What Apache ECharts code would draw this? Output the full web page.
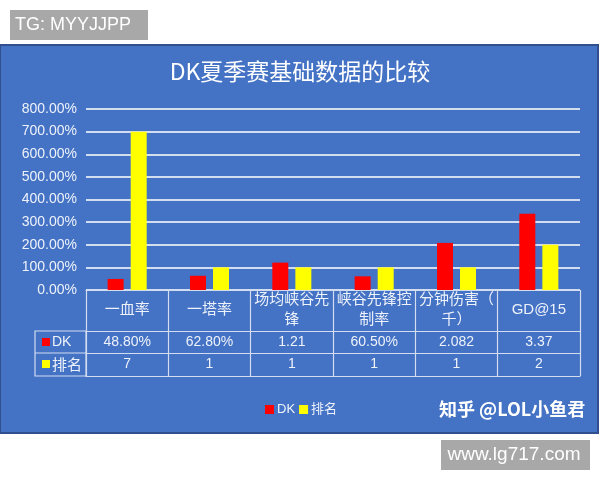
<!DOCTYPE html>
<html>
<head>
<meta charset="utf-8">
<script src="https://cdn.jsdelivr.net/npm/echarts@6/dist/echarts.min.js"></script>
<style>
html,body{margin:0;padding:0;background:#fff;}
#c{width:600px;height:480px;}
</style>
</head>
<body>
<div id="c"></div>
<script>
// ---- data ----
const categories = ['一血率', '一塔率', '场均峡谷先锋', '峡谷先锋控制率', '分钟伤害（千）', 'GD@15'];
const dkValues = [0.488, 0.628, 1.21, 0.605, 2.082, 3.37];
const dkLabels = ['48.80%', '62.80%', '1.21', '60.50%', '2.082', '3.37'];
const rankValues = [7, 1, 1, 1, 1, 2];
const seriesNames = ['DK', '排名'];
const yMin = 0, yMax = 8, yStep = 1;

const BLUE = '#4472C4';
const LINE = '#D3DDF0';
const TXT = '#EEF2FA';
const CJK = '"Noto Sans CJK SC","Noto Sans",sans-serif';
const LAT = '"Liberation Sans","Noto Sans CJK SC",sans-serif';

function wrap5(s) {
  if (s.length <= 5) return s;
  return s.slice(0, 5) + '\n' + s.slice(5);
}

const chart = echarts.init(document.getElementById('c'), null, {renderer: 'canvas'});
const tableLine = {show: true, lineStyle: {color: LINE, width: 1.2}};

chart.setOption({
  backgroundColor: '#ffffff',
  animation: false,
  title: {
    text: 'DK夏季赛基础数据的比较',
    left: 'center',
    top: 55,
    textStyle: {color: '#ffffff', fontSize: 23, fontWeight: 'normal', fontFamily: CJK}
  },
  legend: {
    data: seriesNames,
    left: 260,
    top: 398,
    icon: 'rect',
    itemWidth: 9,
    itemHeight: 9,
    itemGap: 4,
    textStyle: {color: TXT, fontSize: 13, fontFamily: LAT, padding: [0, 0, 0, -2]}
  },
  grid: {left: 86, right: 20, top: 109, bottom: 190, containLabel: false},
  yAxis: {
    type: 'value',
    min: yMin, max: yMax, interval: yStep,
    axisLine: {show: false},
    axisTick: {show: false},
    axisLabel: {
      color: TXT, fontSize: 14, fontFamily: LAT, margin: 9,
      formatter: v => (v * 100).toFixed(2) + '%'
    },
    splitLine: {lineStyle: {color: LINE, width: 2}}
  },
  xAxis: [
    {
      type: 'category', data: categories, position: 'bottom',
      axisLine: tableLine,
      axisTick: {show: true, length: 86, lineStyle: {color: LINE, width: 1.2}},
      axisLabel: {
        color: TXT, fontSize: 15, fontFamily: LAT, margin: 20, verticalAlign: 'middle',
        lineHeight: 20, interval: 0, formatter: v => wrap5(v)
      }
    },
    {
      type: 'category', data: categories, position: 'bottom', offset: 41,
      axisLine: tableLine, axisTick: {show: false},
      axisLabel: {
        color: TXT, fontSize: 14, fontFamily: LAT, margin: 11, verticalAlign: 'middle', interval: 0,
        formatter: (v, i) => dkLabels[i]
      }
    },
    {
      type: 'category', data: categories, position: 'bottom', offset: 63,
      axisLine: tableLine, axisTick: {show: false},
      axisLabel: {
        color: TXT, fontSize: 14, fontFamily: LAT, margin: 11, verticalAlign: 'middle', interval: 0,
        formatter: (v, i) => String(rankValues[i])
      }
    },
    {
      type: 'category', data: categories, position: 'bottom', offset: 86,
      axisLine: tableLine, axisTick: {show: false}, axisLabel: {show: false}
    }
  ],
  series: [
    {
      name: seriesNames[0], type: 'bar', xAxisIndex: 0, data: dkValues,
      barWidth: 16, barGap: '44%', itemStyle: {color: '#FF0000'}
    },
    {
      name: seriesNames[1], type: 'bar', xAxisIndex: 0, data: rankValues,
      barWidth: 16, itemStyle: {color: '#FFFF00'}
    }
  ],
  graphic: [
    {type: 'rect', z: -100, shape: {x: 0, y: 45, width: 598, height: 388},
      style: {fill: BLUE, stroke: '#2F4F8F', lineWidth: 2}},
    {type: 'rect', z: 10, shape: {x: 10, y: 10, width: 138, height: 30}, style: {fill: '#A8A8A8'}},
    {type: 'text', z: 11, x: 15, y: 25, style: {text: 'TG: MYYJJPP', fill: '#ffffff', font: '18px "Liberation Sans", sans-serif', verticalAlign: 'middle'}},
    {type: 'rect', z: 10, shape: {x: 441, y: 440, width: 149, height: 30}, style: {fill: '#A8A8A8'}},
    {type: 'text', z: 11, x: 514, y: 455, style: {text: 'www.lg717.com', fill: '#ffffff', font: '19px "Liberation Sans", sans-serif', align: 'center', verticalAlign: 'middle'}},
    {type: 'text', z: 11, x: 439, y: 409, style: {text: '知乎 @LOL小鱼君', fill: '#ffffff', font: 'bold 18px "Noto Sans CJK SC", sans-serif', verticalAlign: 'middle', shadowColor: 'rgba(0,0,0,0.5)', shadowBlur: 2, shadowOffsetX: 1, shadowOffsetY: 1}},
    // row header cells of the data table
    {type: 'rect', z: 5, shape: {x: 35, y: 331, width: 51, height: 45}, style: {fill: 'none', stroke: LINE, lineWidth: 1.2}},
    {type: 'line', z: 5, shape: {x1: 35, y1: 353, x2: 86, y2: 353}, style: {stroke: LINE, lineWidth: 1.2}},
    {type: 'rect', z: 6, shape: {x: 42, y: 338, width: 8, height: 8}, style: {fill: '#FF0000'}},
    {type: 'text', z: 6, x: 52, y: 342, style: {text: seriesNames[0], fill: TXT, font: '14px "Liberation Sans", sans-serif', verticalAlign: 'middle'}},
    {type: 'rect', z: 6, shape: {x: 42, y: 360, width: 8, height: 8}, style: {fill: '#FFFF00'}},
    {type: 'text', z: 6, x: 52, y: 364, style: {text: seriesNames[1], fill: TXT, font: '15px "Noto Sans CJK SC", sans-serif', verticalAlign: 'middle'}}
  ]
});
</script>
</body>
</html>
